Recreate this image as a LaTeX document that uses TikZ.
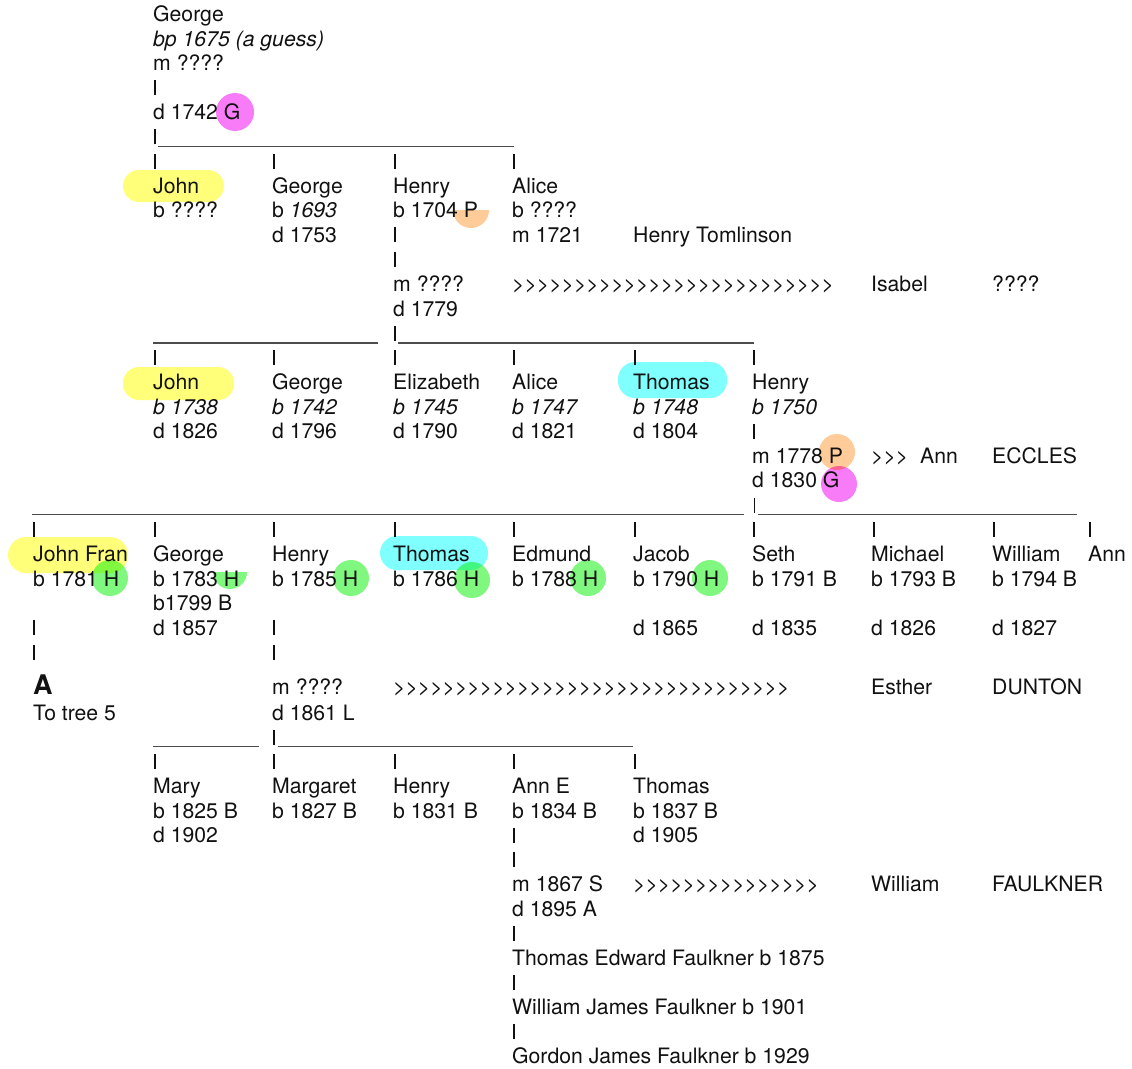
\documentclass[tikz,border=0pt]{standalone}
\usepackage{fontspec}
\setmainfont{TeX Gyre Heros}[Ligatures=TeXOff]
\usepackage{xcolor}
\definecolor{inkc}{HTML}{111111}
\definecolor{hlyellow}{HTML}{FFFF7A}
\definecolor{hlcyan}{HTML}{80FFFF}
\definecolor{hlgreen}{HTML}{80F880}
\definecolor{hlorange}{HTML}{FFCC99}
\definecolor{hlpink}{HTML}{F87CF8}
\newcommand{\chev}[1]{\foreach \i in {1,...,#1}{>}}

\begin{document}
\begin{tikzpicture}[x=1pt,y=-1pt,
  font=\fontsize{21.2}{24.55}\selectfont,
  t/.style={anchor=base west,inner sep=0pt,text=inkc},
  it/.style={t,font=\fontsize{21.2}{24.55}\selectfont\itshape},
  bar/.style={line width=1.5pt,inkc},
  rule/.style={line width=1.2pt,black!70},
  blob/.style={rounded corners=16pt},
]
\useasboundingbox[fill=white] (0,0) rectangle (1132,1068);

% hand-drawn highlights
\begin{scope}[blend mode=multiply]
\fill[hlyellow,blob] (123,170) rectangle (224,202);
\fill[hlyellow,blob] (123,367) rectangle (234,400);
\fill[hlyellow,rounded corners=18pt] (8,537) rectangle (128,573);
\fill[hlcyan,rounded corners=17pt] (618,362) rectangle (727,398);
\fill[hlcyan,rounded corners=17pt] (380,536) rectangle (488,570);
\fill[hlpink] (235,112) circle[radius=19];
\fill[hlorange] (453,210) arc[start angle=180,end angle=0,radius=18] -- cycle;
\fill[hlorange] (837,452) circle[radius=18];
\fill[hlpink] (839,484) circle[radius=18];
\fill[hlgreen] (110,578) circle[radius=18];
\fill[hlgreen] (213,572) arc[start angle=180,end angle=0,radius=17] -- cycle;
\fill[hlgreen] (351,578) circle[radius=18];
\fill[hlgreen] (472,580) circle[radius=18];
\fill[hlgreen] (588,578) circle[radius=18];
\fill[hlgreen] (710,578) circle[radius=18];
\end{scope}

% George and his children
\node[t] (george) at (153,21.5) {George};
\node[it] (georgebp) at (153,46.05) {bp 1675 (a guess)};
\node[t] (georgem) at (153,70.6) {m ????};
\draw[bar] (155,95.15) -- ++(0,-15);
\node[t] (georged) at (153,119.7) {d 1742 G};
\draw[bar] (155,144.25) -- ++(0,-15);
\draw[rule] (158,146.5) -- (514,146.5);
\foreach \x in {155,274,395,514} \draw[bar] (\x,168.8) -- ++(0,-15);

\node[t] (johnA) at (153,193.35) {John};
\node[t] (georgeA) at (272,193.35) {George};
\node[t] (henryA) at (393,193.35) {Henry};
\node[t] (aliceA) at (512,193.35) {Alice};
\node[t] (johnAb) at (153,217.9) {b ????};
\node[t] (georgeAb) at (272,217.9) {b \textit{1693}};
\node[t] (henryAb) at (393,217.9) {b 1704 P};
\node[t] (aliceAb) at (512,217.9) {b ????};
\node[t] (georgeAd) at (272,242.45) {d 1753};
\draw[bar] (395,242.45) -- ++(0,-15);
\node[t] (aliceAm) at (512,242.45) {m 1721};
\node[t] (tomlinson) at (633,242.45) {Henry Tomlinson};
\draw[bar] (395,267) -- ++(0,-15);
\node[t] (henryAm) at (393,291.55) {m ????};
\node[t] (chevA) at (512,291.55) {\chev{26}};
\node[t] (isabel) at (871,291.55) {Isabel};
\node[t] (isabelsn) at (992,291.55) {????};
\node[t] (henryAd) at (393,316.1) {d 1779};
\draw[rule] (153,342.9) -- (378,342.9);
\draw[bar] (395,340.65) -- ++(0,-15);
\draw[rule] (398,342.9) -- (754,342.9);
\foreach \x in {155,274,395,514,635,754} \draw[bar] (\x,365.2) -- ++(0,-15);

% children of Henry and Isabel
\node[t] (johnB) at (153,389.75) {John};
\node[t] (georgeB) at (272,389.75) {George};
\node[t] (elizB) at (393,389.75) {Elizabeth};
\node[t] (aliceB) at (512,389.75) {Alice};
\node[t] (thomasB) at (633,389.75) {Thomas};
\node[t] (henryB) at (752,389.75) {Henry};
\node[it] (johnBb) at (153,414.3) {b 1738};
\node[it] (georgeBb) at (272,414.3) {b 1742};
\node[it] (elizBb) at (393,414.3) {b 1745};
\node[it] (aliceBb) at (512,414.3) {b 1747};
\node[it] (thomasBb) at (633,414.3) {b 1748};
\node[it] (henryBb) at (752,414.3) {b 1750};
\node[t] (johnBd) at (153,438.85) {d 1826};
\node[t] (georgeBd) at (272,438.85) {d 1796};
\node[t] (elizBd) at (393,438.85) {d 1790};
\node[t] (aliceBd) at (512,438.85) {d 1821};
\node[t] (thomasBd) at (633,438.85) {d 1804};
\draw[bar] (754,438.85) -- ++(0,-15);
\node[t] (henryBm) at (752,463.4) {m 1778 P};
\node[t] (annB) at (871,463.4) {\chev{3}\ \ Ann};
\node[t] (eccles) at (992,463.4) {ECCLES};
\node[t] (henryBd) at (752,487.95) {d 1830 G};
\draw[rule] (32,514.7) -- (744,514.7);
\draw[bar] (754.5,512.5) -- ++(0,-15);
\draw[rule] (758,514.7) -- (1077,514.7);
\foreach \x in {34,155,274,395,514,635,754,874,994,1090} \draw[bar] (\x,537.05) -- ++(0,-15);

% children of Henry and Ann
\node[t] (johnC) at (33,561.6) {John Fran};
\node[t] (georgeC) at (153,561.6) {George};
\node[t] (henryC) at (272,561.6) {Henry};
\node[t] (thomasC) at (393,561.6) {Thomas};
\node[t] (edmundC) at (512,561.6) {Edmund};
\node[t] (jacobC) at (633,561.6) {Jacob};
\node[t] (sethC) at (752,561.6) {Seth};
\node[t] (michaelC) at (871,561.6) {Michael};
\node[t] (williamC) at (992,561.6) {William};
\node[t] (annC) at (1088,561.6) {Ann};
\node[t] (johnCb) at (33,586.15) {b 1781 H};
\node[t] (georgeCb) at (153,586.15) {b 1783 H};
\node[t] (henryCb) at (272,586.15) {b 1785 H};
\node[t] (thomasCb) at (393,586.15) {b 1786 H};
\node[t] (edmundCb) at (512,586.15) {b 1788 H};
\node[t] (jacobCb) at (633,586.15) {b 1790 H};
\node[t] (sethCb) at (752,586.15) {b 1791 B};
\node[t] (michaelCb) at (871,586.15) {b 1793 B};
\node[t] (williamCb) at (992,586.15) {b 1794 B};
\node[t] (georgeCbb) at (153,610.7) {b1799 B};
\draw[bar] (34,635.25) -- ++(0,-15);
\node[t] (georgeCd) at (153,635.25) {d 1857};
\draw[bar] (274,635.25) -- ++(0,-15);
\node[t] (jacobCd) at (633,635.25) {d 1865};
\node[t] (sethCd) at (752,635.25) {d 1835};
\node[t] (michaelCd) at (871,635.25) {d 1826};
\node[t] (williamCd) at (992,635.25) {d 1827};
\draw[bar] (34,659.8) -- ++(0,-15);
\draw[bar] (274,659.8) -- ++(0,-15);
\node[t,font=\fontsize{27}{30}\selectfont\bfseries] (treeA) at (33,694) {A};
\node[t] (henryCm) at (272,694) {m ????};
\node[t] (chevC) at (393,694) {\chev{32}};
\node[t] (esther) at (871,694) {Esther};
\node[t] (dunton) at (992,694) {DUNTON};
\node[t] (totree) at (33,720) {To tree 5};
\node[t] (henryCd) at (272,720) {d 1861 L};
\draw[rule] (153,746.8) -- (259,746.8);
\draw[bar] (274,744.55) -- ++(0,-15);
\draw[rule] (278,746.8) -- (633,746.8);
\foreach \x in {155,274,395,514,635} \draw[bar] (\x,769.1) -- ++(0,-15);

% children of Henry and Esther
\node[t] (maryD) at (153,793.65) {Mary};
\node[t] (margD) at (272,793.65) {Margaret};
\node[t] (henryD) at (393,793.65) {Henry};
\node[t] (annD) at (512,793.65) {Ann E};
\node[t] (thomasD) at (633,793.65) {Thomas};
\node[t] (maryDb) at (153,818.2) {b 1825 B};
\node[t] (margDb) at (272,818.2) {b 1827 B};
\node[t] (henryDb) at (393,818.2) {b 1831 B};
\node[t] (annDb) at (512,818.2) {b 1834 B};
\node[t] (thomasDb) at (633,818.2) {b 1837 B};
\node[t] (maryDd) at (153,842.75) {d 1902};
\draw[bar] (514,842.75) -- ++(0,-15);
\node[t] (thomasDd) at (633,842.75) {d 1905};
\draw[bar] (514,867.3) -- ++(0,-15);
\node[t] (annDm) at (512,891.85) {m 1867 S};
\node[t] (chevD) at (633,891.85) {\chev{15}};
\node[t] (williamF) at (871,891.85) {William};
\node[t] (faulkner) at (992,891.85) {FAULKNER};
\node[t] (annDd) at (512,916.4) {d 1895 A};
\draw[bar] (514,940.95) -- ++(0,-15);
\node[t] (thomasE) at (512,965.5) {Thomas Edward Faulkner b 1875};
\draw[bar] (514,990.05) -- ++(0,-15);
\node[t] (williamE) at (512,1014.6) {William James Faulkner b 1901};
\draw[bar] (514,1039.15) -- ++(0,-15);
\node[t] (gordonE) at (512,1063.7) {Gordon James Faulkner b 1929};
\end{tikzpicture}
\end{document}
